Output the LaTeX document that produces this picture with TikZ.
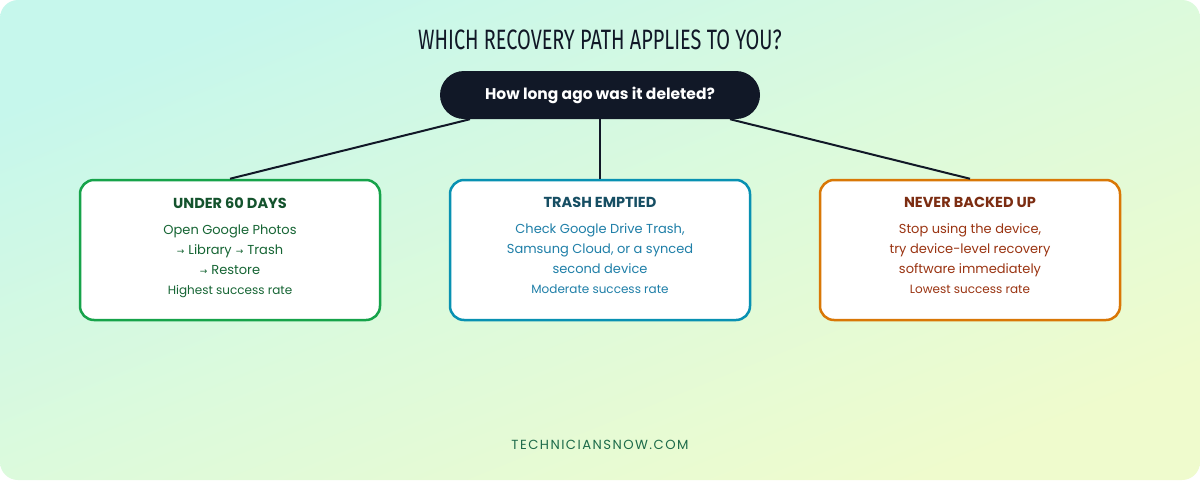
\documentclass[tikz,border=0pt]{standalone}
\usepackage{fontspec}
\setmainfont{Poppins}
\newfontfamily\titlefont[FakeStretch=0.71]{Fira Sans}
\newfontfamily\symfont{DejaVu Sans}
\newfontfamily\footfont[LetterSpace=11]{Poppins}
\usetikzlibrary{positioning}
\usetikzlibrary{calc}
\definecolor{bgtop}{HTML}{C6F7EC}
\definecolor{bgmid}{HTML}{DCFADC}
\definecolor{bgbot}{HTML}{EFFBCD}
\definecolor{navy}{HTML}{111827}
\definecolor{grnline}{HTML}{16A34A}
\definecolor{grnhead}{HTML}{14532D}
\definecolor{grntext}{HTML}{166534}
\definecolor{cyanline}{HTML}{0891B2}
\definecolor{cyanhead}{HTML}{164E63}
\definecolor{cyantext}{HTML}{1F7FA8}
\definecolor{orgline}{HTML}{D97706}
\definecolor{orghead}{HTML}{7C2D12}
\definecolor{orgtext}{HTML}{9A3412}
\definecolor{sitegreen}{HTML}{1D6B4A}
\newcommand{\sarr}{{\symfont\fontsize{9}{20}\selectfont →}\hspace{4pt}}

\begin{document}
\begin{tikzpicture}[x=1pt, y=-1pt,
    card/.style={rectangle, rounded corners=14pt, line width=2.5pt, fill=white,
        minimum width=300pt, minimum height=140pt},
    cardtext/.style={align=center, anchor=north, font=\fontsize{13}{20}\selectfont},
    pill/.style={rectangle, rounded corners=24pt, fill=navy, text=white,
        minimum width=320pt, minimum height=48pt, font=\bfseries\fontsize{15.5}{18}\selectfont},
    link/.style={draw=navy, line width=2pt}]
    % Background
    \fill[white] (0,0) rectangle (1200,480);
    \shade[rounded corners=18pt, top color=bgtop, bottom color=bgbot, middle color=bgmid,
        shading angle=22] (0,0) rectangle (1200,480);
    \useasboundingbox (0,0) rectangle (1200,480);

    % Title and question
    \node[font=\titlefont\fontsize{28}{30}\selectfont, text=navy] (title) at (600,40)
        {WHICH RECOVERY PATH APPLIES TO YOU?};
    \node[pill] (q) at (600,95) {How long ago was it deleted?};

    % Three paths
    \node[card, draw=grnline] (under) at (230,250) {};
    \node[cardtext, text=grntext, below=15pt of under.north] (undertext)
        {{\color{grnhead}\bfseries\fontsize{14.5}{20}\selectfont UNDER 60 DAYS}\\[6pt]
         Open Google Photos\\
         \sarr Library\hspace{4pt}\sarr Trash\\
         \sarr Restore\\
         {\fontsize{12}{20}\selectfont Highest success rate}};

    \node[card, draw=cyanline] (emptied) at (600,250) {};
    \node[cardtext, text=cyantext, below=15pt of emptied.north] (emptiedtext)
        {{\color{cyanhead}\bfseries\fontsize{14.5}{20}\selectfont TRASH EMPTIED}\\[6pt]
         Check Google Drive Trash,\\
         Samsung Cloud, or a synced\\
         second device\\
         {\fontsize{12}{20}\selectfont Moderate success rate}};

    \node[card, draw=orgline] (never) at (970,250) {};
    \node[cardtext, text=orgtext, below=15pt of never.north] (nevertext)
        {{\color{orghead}\bfseries\fontsize{14.5}{20}\selectfont NEVER BACKED UP}\\[6pt]
         Stop using the device,\\
         try device-level recovery\\
         software immediately\\
         {\fontsize{12}{20}\selectfont Lowest success rate}};

    % Connectors
    \draw[link] ([xshift=-130pt]q.south) -- (under.north);
    \draw[link] (q.south) -- (emptied.north);
    \draw[link] ([xshift=130pt]q.south) -- (never.north);

    % Footer
    \node[font=\footfont\fontsize{13.2}{15}\selectfont, text=sitegreen] (site) at (600,445)
        {TECHNICIANSNOW.COM};
\end{tikzpicture}
\end{document}
